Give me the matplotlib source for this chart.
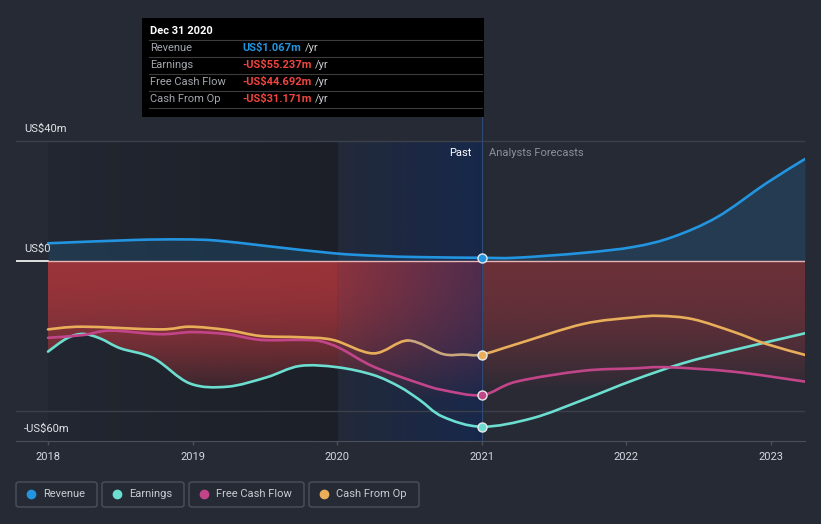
import numpy as np
import matplotlib
matplotlib.use("Agg")
import matplotlib.pyplot as plt
from matplotlib.patches import Polygon, Rectangle, FancyBboxPatch, PathPatch
from matplotlib.lines import Line2D
from matplotlib.path import Path

plt.rcParams["font.family"] = ["Roboto", "DejaVu Sans"]

# past values (US$m)
rev_past_x = [2018.0, 2018.59, 2018.93, 2019.17, 2019.51, 2019.97, 2020.28, 2020.57, 2021.0]
rev_past_y = [5.9, 7.0, 7.2, 6.8, 5.0, 2.6, 1.7, 1.3, 1.067]
earn_past_x = [2018.0, 2018.13, 2018.24, 2018.36, 2018.5, 2018.73, 2018.98, 2019.24, 2019.51,
               2019.74, 2020.0, 2020.25, 2020.43, 2020.57, 2020.73, 2021.0]
earn_past_y = [-30.2, -25.8, -24.3, -25.8, -29.1, -32.4, -40.8, -41.9, -38.8,
               -35.0, -35.4, -38.0, -41.9, -46.3, -51.9, -55.237]
fcf_past_x = [2018.0, 2018.24, 2018.43, 2018.77, 2019.0, 2019.24, 2019.47, 2019.74, 2019.88,
              2020.02, 2020.25, 2020.57, 2020.73, 2021.0]
fcf_past_y = [-25.6, -24.7, -23.2, -24.4, -23.7, -24.4, -26.3, -26.3, -26.7,
              -29.1, -35.2, -40.8, -43.0, -44.692]
cfo_past_x = [2018.0, 2018.24, 2018.77, 2018.98, 2019.24, 2019.47, 2019.74, 2019.97,
              2020.25, 2020.49, 2020.73, 2020.87, 2021.0]
cfo_past_y = [-22.8, -21.9, -22.8, -21.9, -23.0, -25.0, -25.4, -26.3,
              -30.8, -26.5, -31.0, -31.17, -31.171]

# analyst forecasts
rev_fc_x = [2021.0, 2021.24, 2021.7, 2022.05, 2022.32, 2022.63, 2022.97, 2023.235]
rev_fc_y = [1.067, 1.1, 2.7, 4.7, 8.0, 14.7, 26.0, 34.0]
earn_fc_x = [2021.0, 2021.35, 2021.7, 2022.05, 2022.39, 2022.74, 2023.235]
earn_fc_y = [-55.237, -52.4, -46.3, -39.7, -34.1, -29.7, -24.1]
fcf_fc_x = [2021.0, 2021.24, 2021.7, 2022.05, 2022.28, 2022.74, 2023.235]
fcf_fc_y = [-44.692, -40.2, -36.6, -35.8, -35.4, -36.9, -40.2]
cfo_fc_x = [2021.0, 2021.24, 2021.7, 2022.05, 2022.23, 2022.46, 2022.74, 2022.97, 2023.235]
cfo_fc_y = [-31.171, -27.7, -21.0, -18.8, -18.3, -19.4, -23.6, -27.7, -31.3]

years = [2018, 2019, 2020, 2021, 2022, 2023]
series_names = ["Revenue", "Earnings", "Free Cash Flow", "Cash From Op"]
tooltip_values = ["US$1.067m", "-US$55.237m", "-US$44.692m", "-US$31.171m"]

BG = "#252a35"
C_REV, C_EARN, C_FCF, C_CFO = "#2394df", "#6bdecf", "#c2458a", "#e8ae5a"
colors = [C_REV, C_EARN, C_FCF, C_CFO]

W, H = 821, 524
fig = plt.figure(figsize=(W / 100, H / 100), dpi=100, facecolor=BG)
ax = fig.add_axes([16 / W, (H - 441) / H, (805 - 16) / W, (441 - 117) / H])
ax.set_facecolor(BG)
x0, x1 = 2018 - 32 / 144.6, 2018 + 757 / 144.6
ax.set_xlim(x0, x1)
ax.set_ylim(-60, 48)


def cat(a, b):
    return np.array(a + b[1:])


def smooth_path(x, y, i0=0, i1=None):
    # cubic bezier through the read points (catmull-rom style handles)
    p = np.column_stack([x, y])
    n = len(p)
    i1 = n - 1 if i1 is None else i1
    verts, codes = [tuple(p[i0])], [Path.MOVETO]
    for i in range(i0, i1):
        pm = p[max(i - 1, 0)]
        pn = p[min(i + 2, n - 1)]
        c1 = p[i] + (p[i + 1] - pm) / 6
        c2 = p[i + 1] - (pn - p[i]) / 6
        verts += [tuple(c1), tuple(c2), tuple(p[i + 1])]
        codes += [Path.CURVE4] * 3
    return Path(verts, codes)


def flat(path):
    v = path.to_polygons(closed_only=False)[0]
    return v[:, 0], v[:, 1]


earn_x, earn_y = cat(earn_past_x, earn_fc_x), cat(earn_past_y, earn_fc_y)
fcf_x, fcf_y = cat(fcf_past_x, fcf_fc_x), cat(fcf_past_y, fcf_fc_y)
cfo_x, cfo_y = cat(cfo_past_x, cfo_fc_x), cat(cfo_past_y, cfo_fc_y)
rev_x, rev_y = cat(rev_past_x, rev_fc_x), cat(rev_past_y, rev_fc_y)

paths = {
    "rev": smooth_path(rev_x, rev_y),
    "earn": smooth_path(earn_x, earn_y),
    "fcf": smooth_path(fcf_x, fcf_y),
    "cfo": smooth_path(cfo_x, cfo_y),
}

# darker band over the older history
dark = np.zeros((2, 200, 4))
dark[..., 3] = np.linspace(0.08, 0.25, 200)
ax.imshow(dark, extent=[2018, 2020, -60, 40], aspect="auto", zorder=0.5, interpolation="bilinear")

# red fill between zero and the lowest of the negative lines
xs = np.linspace(2018, x1, 800)
lows = []
for k in ["earn", "fcf", "cfo"]:
    fxv, fyv = flat(paths[k])
    order = np.argsort(fxv)
    lows.append(np.interp(xs, fxv[order], fyv[order]))
lower = np.minimum.reduce(lows)
clip = Polygon(list(zip(xs, lower)) + [(xs[-1], 0), (xs[0], 0)], closed=True,
               facecolor="none", edgecolor="none", transform=ax.transData)
ax.add_patch(clip)
ny, nx = 300, 800
d = np.linspace(0, 60, ny)[:, None]
red = np.zeros((ny, nx, 4))
red[..., 0], red[..., 1], red[..., 2] = 175 / 255, 55 / 255, 60 / 255
a_past = 0.85 * np.clip(1 - (d / 48) ** 2, 0.05, 1)
a_fc = 0.5 * np.clip(1 - (d / 45) ** 2, 0.08, 1)
red[..., 3] = np.where(xs[None, :] > 2021, a_fc, a_past)
im = ax.imshow(red, extent=[2018, x1, -60, 0], origin="upper", aspect="auto",
               zorder=1, interpolation="bilinear")
im.set_clip_path(clip)

rx, ry_ = flat(paths["rev"])
ax.fill_between(rx, ry_, 0, color=C_REV, alpha=0.17, lw=0, zorder=1.2)

# highlighted last year of history
blue = np.zeros((2, 200, 4))
blue[..., 0], blue[..., 1], blue[..., 2] = 10 / 255, 38 / 255, 95 / 255
blue[..., 3] = np.linspace(0.1, 0.52, 200)
ax.imshow(blue, extent=[2020, 2021, -60, 40], aspect="auto", zorder=2, interpolation="bilinear")

# grid
ax.axhline(40, color="#3b404b", lw=1, zorder=2.5)
ax.axhline(-50, color="#3b404b", lw=1, zorder=2.5)
zx = (48 - 16) / (805 - 16)
ax.axhline(0, xmin=0, xmax=zx, color="white", lw=1.2, zorder=2.5)
ax.axhline(0, xmin=zx, xmax=1, color="#e9b4b4", lw=1, zorder=2.5)
ax.plot([2021, 2021], [-60, 48], color="#2f4a76", lw=0.8, zorder=2.6)

for s in ["top", "right", "left"]:
    ax.spines[s].set_visible(False)
ax.spines["bottom"].set_color("#4a4f5a")
ax.set_xticks(years)
ax.set_xticklabels([str(y) for y in years])
ax.set_yticks([])
ax.tick_params(axis="x", colors="#4a4f5a", length=3, width=1, pad=5,
               labelcolor="#d5d8dd", labelsize=8)

# lines
lw = 1.9
kw = dict(fill=False, lw=lw, zorder=4, capstyle="round", joinstyle="round")
ax.add_patch(PathPatch(paths["rev"], edgecolor=C_REV, **kw))
ax.add_patch(PathPatch(paths["earn"], edgecolor=C_EARN, **kw))
ax.add_patch(PathPatch(paths["fcf"], edgecolor=C_FCF, **kw))
n_or = cfo_past_x.index(2020.49)
n_21 = len(cfo_past_x) - 1
ax.add_patch(PathPatch(smooth_path(cfo_x, cfo_y, 0, n_or), edgecolor=C_CFO, **kw))
ax.add_patch(PathPatch(smooth_path(cfo_x, cfo_y, n_or, n_21), edgecolor="#c8a77e", **kw))
ax.add_patch(PathPatch(smooth_path(cfo_x, cfo_y, n_21), edgecolor=C_CFO, **kw))

for yv, c in zip([rev_past_y[-1], earn_past_y[-1], fcf_past_y[-1], cfo_past_y[-1]], colors):
    ax.plot([2021], [yv], "o", ms=6.5, mfc=c, mec="#e8e8e8", mew=1, zorder=5)

# y labels
lab_x = (24 - 16) / (805 - 16)
for v, t in [(40, "US$40m"), (0, "US$0"), (-60, "-US$60m")]:
    ax.text(lab_x, v + 4, t, transform=ax.get_yaxis_transform(), color="#e2e4e8",
            fontsize=8, va="center", ha="left", zorder=6)

px = 1 / 144.6
ax.text(2021 - 10 * px, 36, "Past", color="white", fontsize=8, ha="right", va="center", zorder=6)
ax.text(2021 + 7 * px, 36, "Analysts Forecasts", color="#8b9099", fontsize=8,
        ha="left", va="center", zorder=6)


# tooltip
def fx(p):
    return p / W


def fy(p):
    return 1 - p / H


fig.add_artist(Rectangle((fx(142), fy(117)), fx(484) - fx(142), fy(18) - fy(117),
                         transform=fig.transFigure, facecolor="black", edgecolor="none", zorder=10))
fig.text(fx(150), fy(31), "Dec 31 2020", color="white", fontsize=8, fontweight="bold",
         va="center", zorder=11)
for ly in [40, 57, 74, 91, 108]:
    fig.add_artist(Line2D([fx(149), fx(482)], [fy(ly), fy(ly)], transform=fig.transFigure,
                          color="#3c3c3c", lw=0.8, zorder=11))
renderer = fig.canvas.get_renderer()
for i, (name, val) in enumerate(zip(series_names, tooltip_values)):
    ry = fy(48 + 17 * i)
    fig.text(fx(150), ry, name, color="#a3a7ad", fontsize=8, va="center", zorder=11)
    vc = C_REV if i == 0 else "#f0443f"
    t = fig.text(fx(242), ry, val, color=vc, fontsize=8, fontweight="bold", va="center", zorder=11)
    bb = t.get_window_extent(renderer)
    fig.text((bb.x1 + 4) / W, ry, "/yr", color="#c9ccd1", fontsize=8, va="center", zorder=11)

# legend
boxes = [(16, 97), (102, 184), (189, 304), (309, 419)]
for (bx0, bx1), name, c in zip(boxes, series_names, colors):
    fig.add_artist(FancyBboxPatch((fx(bx0), fy(507)), fx(bx1) - fx(bx0), fy(482) - fy(507),
                                  boxstyle="round,pad=0,rounding_size=0.004",
                                  transform=fig.transFigure, facecolor="none",
                                  edgecolor="#4b515d", lw=1))
    fig.add_artist(Line2D([fx(bx0 + 15)], [fy(494)], marker="o", ms=6, mfc=c, mec=c,
                          transform=fig.transFigure, linestyle="none"))
    fig.text(fx(bx0 + 27), fy(494), name, color="#c8ccd2", fontsize=8, va="center")

fig.savefig("out.png", dpi=100, facecolor=BG)
